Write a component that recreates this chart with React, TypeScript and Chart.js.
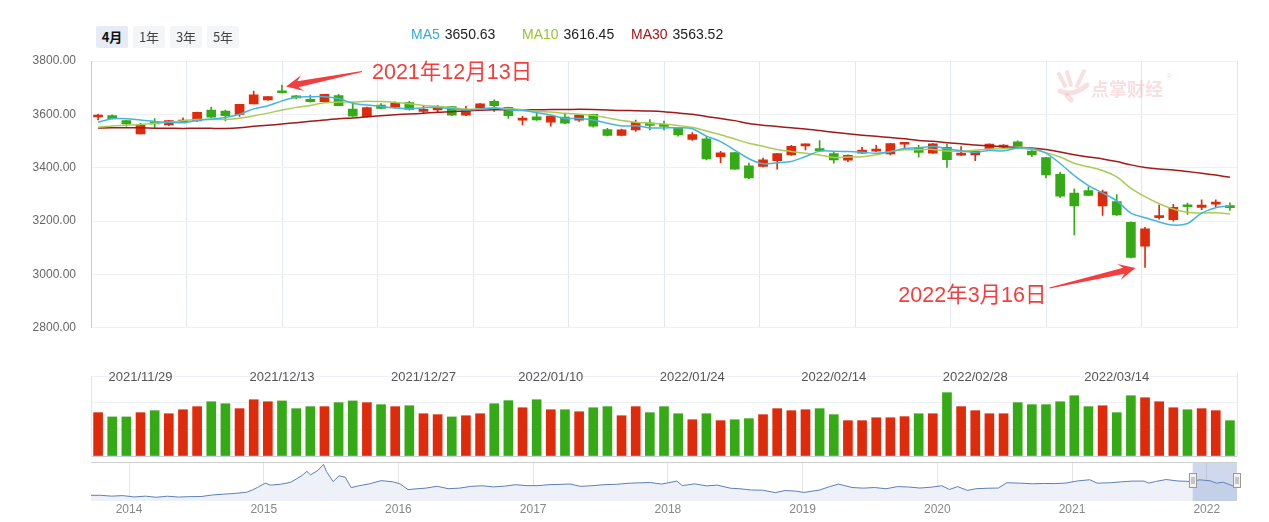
import React, { useEffect, useRef } from 'react';
import { Chart, registerables } from 'chart.js';

Chart.register(...registerables);

const FONT = "'Liberation Sans', Arial, 'Noto Sans CJK SC', sans-serif";

// ---------------- DATA ----------------
const dates = [
  '2021/11/24', '2021/11/25', '2021/11/26', '2021/11/29', '2021/11/30',
  '2021/12/01', '2021/12/02', '2021/12/03', '2021/12/06', '2021/12/07', '2021/12/08', '2021/12/09', '2021/12/10',
  '2021/12/13', '2021/12/14', '2021/12/15', '2021/12/16', '2021/12/17', '2021/12/20', '2021/12/21', '2021/12/22',
  '2021/12/23', '2021/12/24', '2021/12/27', '2021/12/28', '2021/12/29', '2021/12/30', '2021/12/31',
  '2022/01/04', '2022/01/05', '2022/01/06', '2022/01/07', '2022/01/10', '2022/01/11', '2022/01/12', '2022/01/13',
  '2022/01/14', '2022/01/17', '2022/01/18', '2022/01/19', '2022/01/20', '2022/01/21', '2022/01/24', '2022/01/25',
  '2022/01/26', '2022/01/27', '2022/01/28',
  '2022/02/07', '2022/02/08', '2022/02/09', '2022/02/10', '2022/02/11', '2022/02/14', '2022/02/15', '2022/02/16',
  '2022/02/17', '2022/02/18', '2022/02/21', '2022/02/22', '2022/02/23', '2022/02/24', '2022/02/25', '2022/02/28',
  '2022/03/01', '2022/03/02', '2022/03/03', '2022/03/04', '2022/03/07', '2022/03/08', '2022/03/09', '2022/03/10',
  '2022/03/11', '2022/03/14', '2022/03/15', '2022/03/16', '2022/03/17', '2022/03/18', '2022/03/21', '2022/03/22',
  '2022/03/23', '2022/03/24',
];

const opens = [
  3590, 3595, 3577, 3527, 3569, 3560, 3571, 3575, 3616, 3612,
  3600, 3639, 3654, 3688, 3669, 3656, 3648, 3670, 3620, 3590,
  3635, 3627, 3644, 3611, 3617, 3629, 3597, 3624, 3649, 3626,
  3578, 3591, 3571, 3590, 3578, 3600, 3543, 3521, 3542, 3568,
  3557, 3548, 3506, 3508, 3441, 3457, 3407, 3405, 3426, 3448,
  3482, 3472, 3453, 3428, 3455, 3462, 3452, 3488, 3474, 3455,
  3476, 3447, 3448, 3472, 3477, 3497, 3462, 3438, 3375, 3305,
  3314, 3257, 3273, 3195, 3106, 3213, 3205, 3256, 3251, 3263,
  3255,
];
const highs = [
  3601, 3598, 3578, 3566, 3584, 3578, 3587, 3609, 3627, 3616,
  3638, 3687, 3667, 3710, 3671, 3672, 3675, 3675, 3645, 3627,
  3640, 3647, 3649, 3633, 3634, 3630, 3631, 3641, 3654, 3627,
  3593, 3609, 3594, 3603, 3599, 3601, 3548, 3545, 3579, 3580,
  3575, 3548, 3532, 3518, 3461, 3458, 3417, 3436, 3454, 3484,
  3490, 3502, 3458, 3448, 3476, 3484, 3491, 3495, 3484, 3491,
  3488, 3479, 3463, 3490, 3487, 3501, 3472, 3439, 3383, 3321,
  3328, 3316, 3299, 3197, 3177, 3260, 3263, 3267, 3280, 3280,
  3268,
];
const lows = [
  3579, 3583, 3556, 3527, 3549, 3558, 3569, 3574, 3588, 3575,
  3592, 3639, 3653, 3679, 3658, 3646, 3647, 3632, 3592, 3589,
  3620, 3623, 3616, 3603, 3609, 3595, 3595, 3623, 3610, 3585,
  3560, 3577, 3556, 3565, 3574, 3552, 3519, 3519, 3536, 3542,
  3542, 3518, 3502, 3429, 3419, 3394, 3359, 3403, 3395, 3446,
  3467, 3462, 3417, 3423, 3454, 3460, 3448, 3474, 3440, 3454,
  3401, 3445, 3426, 3467, 3471, 3481, 3441, 3362, 3289, 3148,
  3296, 3221, 3221, 3062, 3026, 3207, 3200, 3225, 3243, 3254,
  3240,
];
const closes = [
  3592.7, 3584.2, 3564.1, 3562.7, 3563.9, 3576.9, 3573.8, 3607.4, 3589.3, 3595.1,
  3637.6, 3673.0, 3666.4, 3681.1, 3661.5, 3647.6, 3675.0, 3632.4, 3593.6, 3625.1,
  3622.6, 3643.3, 3618.1, 3616.0, 3630.1, 3597.0, 3619.2, 3639.8, 3632.3, 3595.2,
  3586.1, 3579.5, 3593.5, 3567.4, 3597.4, 3555.3, 3521.3, 3541.7, 3569.9, 3558.2,
  3555.1, 3522.6, 3524.1, 3433.1, 3455.7, 3394.3, 3361.4, 3429.6, 3452.6, 3480.0,
  3485.9, 3463.0, 3428.9, 3446.7, 3465.8, 3468.0, 3490.8, 3490.6, 3457.2, 3489.2,
  3430.0, 3451.4, 3462.3, 3488.8, 3484.2, 3481.1, 3447.7, 3372.9, 3293.5, 3256.4,
  3296.1, 3309.8, 3223.5, 3064.0, 3170.7, 3215.0, 3251.1, 3253.7, 3259.9, 3271.0,
  3250.3,
];

const ma5 = [
  3570.5, 3583.2, 3584.0, 3578.7, 3573.5, 3570.4, 3568.3, 3576.9, 3582.3, 3588.5,
  3600.6, 3620.5, 3632.3, 3650.63, 3663.9, 3665.9, 3666.3, 3659.5, 3642.0, 3634.7,
  3629.7, 3623.4, 3620.5, 3625.0, 3626.0, 3620.9, 3616.1, 3620.4, 3623.7, 3616.7,
  3614.5, 3606.6, 3597.3, 3584.3, 3584.8, 3578.6, 3567.0, 3556.6, 3557.1, 3549.3,
  3549.2, 3549.5, 3546.0, 3518.6, 3498.1, 3466.0, 3433.7, 3414.8, 3418.7, 3423.6,
  3441.9, 3462.2, 3462.1, 3460.9, 3458.1, 3454.5, 3460.0, 3472.4, 3474.5, 3479.2,
  3471.6, 3463.7, 3458.0, 3464.3, 3463.3, 3473.6, 3472.8, 3454.9, 3415.9, 3370.3,
  3333.3, 3305.7, 3275.9, 3230.0, 3212.8, 3196.6, 3184.9, 3190.9, 3230.1, 3250.1,
  3257.2,
];
const ma10 = [
  3551.7, 3556.8, 3559.3, 3562.3, 3566.5, 3570.4, 3575.8, 3580.5, 3580.5, 3581.0,
  3585.5, 3594.4, 3604.6, 3616.45, 3626.2, 3633.3, 3643.4, 3645.9, 3646.3, 3649.3,
  3647.8, 3644.9, 3640.0, 3633.5, 3630.4, 3625.3, 3619.7, 3620.5, 3624.4, 3621.4,
  3617.7, 3611.3, 3608.9, 3604.0, 3600.7, 3596.6, 3586.8, 3577.0, 3570.7, 3567.0,
  3563.9, 3558.2, 3551.3, 3537.9, 3523.7, 3507.6, 3491.6, 3480.4, 3468.7, 3460.9,
  3453.9, 3448.0, 3438.5, 3439.8, 3440.8, 3448.2, 3461.1, 3467.2, 3467.7, 3468.6,
  3463.0, 3461.9, 3465.2, 3469.4, 3471.3, 3472.6, 3468.3, 3456.5, 3440.1, 3416.8,
  3403.4, 3389.3, 3365.4, 3322.9, 3291.6, 3265.0, 3245.3, 3233.4, 3230.0, 3231.5,
  3226.9,
];
const ma30 = [
  3549.0, 3549.9, 3549.6, 3549.4, 3548.4, 3548.1, 3547.4, 3548.2, 3547.5, 3547.4,
  3549.9, 3555.0, 3559.0, 3563.52, 3569.0, 3574.0, 3578.9, 3583.6, 3586.8, 3590.7,
  3595.0, 3598.7, 3601.3, 3604.1, 3607.7, 3609.7, 3613.0, 3615.6, 3617.0, 3617.2,
  3617.0, 3616.9, 3617.8, 3618.0, 3619.1, 3618.4, 3616.6, 3614.5, 3613.8, 3612.6,
  3609.8, 3604.8, 3600.1, 3591.8, 3584.9, 3576.5, 3566.0, 3559.3, 3554.6, 3549.7,
  3545.2, 3539.2, 3532.9, 3527.2, 3521.8, 3517.5, 3513.2, 3508.2, 3502.4, 3498.8,
  3493.6, 3489.4, 3485.0, 3482.4, 3478.6, 3476.1, 3473.7, 3468.0, 3458.8, 3448.8,
  3440.1, 3433.0, 3423.0, 3410.7, 3401.2, 3395.2, 3391.6, 3385.7, 3379.3, 3372.3,
  3364.5,
];

const volumes = [
  3.25, 2.93, 2.93, 3.25, 3.40, 3.17, 3.47, 3.70, 4.07, 3.92,
  3.55, 4.22, 4.07, 4.13, 3.55, 3.70, 3.70, 4.00, 4.13, 4.00,
  3.85, 3.70, 3.77, 3.17, 3.10, 2.93, 3.02, 3.17, 3.92, 4.15,
  3.62, 4.22, 3.47, 3.47, 3.32, 3.62, 3.70, 3.02, 3.70, 3.25,
  3.70, 3.17, 2.72, 3.17, 2.65, 2.72, 2.80, 3.10, 3.55, 3.40,
  3.47, 3.55, 3.10, 2.65, 2.65, 2.87, 2.87, 2.95, 3.17, 3.17,
  4.75, 3.70, 3.40, 3.17, 3.17, 4.00, 3.85, 3.85, 4.07, 4.52,
  3.70, 3.77, 3.25, 4.52, 4.37, 4.07, 3.62, 3.47, 3.55, 3.40,
  2.65,
];

const priceTicks = [2800, 3000, 3200, 3400, 3600, 3800];
const volumeTicks = [0, 2, 4, 6];
const volumeLabelDates = ['2021/11/29', '2021/12/13', '2021/12/27', '2022/01/10', '2022/01/24', '2022/02/14', '2022/02/28', '2022/03/14'];
const rangeButtons = ['4月', '1年', '3年', '5年'];
const selectedRange = '4月';
const legendDate = '2021/12/13';
const noteDates = ['2021/12/13', '2022/03/16'];
const noteTexts = ['2021年12月13日', '2022年3月16日'];

const navDates = [
  '2013-09-20', '2013-10-15', '2013-11-15', '2013-12-15', '2014-01-15', '2014-02-15', '2014-03-15', '2014-04-15',
  '2014-05-15', '2014-06-15', '2014-07-15', '2014-08-15', '2014-09-15', '2014-10-15', '2014-11-15', '2014-12-01',
  '2014-12-15', '2015-01-05', '2015-01-20', '2015-02-15', '2015-03-15', '2015-04-01', '2015-04-15', '2015-04-28',
  '2015-05-08', '2015-05-28', '2015-06-12', '2015-06-20', '2015-07-08', '2015-07-24', '2015-08-10', '2015-08-26',
  '2015-09-15', '2015-10-15', '2015-11-15', '2015-12-15', '2016-01-05', '2016-01-27', '2016-02-15', '2016-03-15',
  '2016-04-15', '2016-05-15', '2016-06-15', '2016-07-15', '2016-08-15', '2016-09-15', '2016-10-15', '2016-11-15',
  '2016-12-15', '2017-01-15', '2017-02-15', '2017-03-15', '2017-04-10', '2017-05-10', '2017-06-15', '2017-07-15',
  '2017-08-15', '2017-09-15', '2017-10-15', '2017-11-15', '2017-12-15', '2018-01-25', '2018-02-09', '2018-03-15',
  '2018-04-15', '2018-05-15', '2018-06-20', '2018-07-15', '2018-08-15', '2018-09-15', '2018-10-19', '2018-11-15',
  '2018-12-15', '2019-01-04', '2019-02-15', '2019-03-15', '2019-04-08', '2019-05-15', '2019-06-15', '2019-07-15',
  '2019-08-15', '2019-09-15', '2019-10-15', '2019-11-15', '2019-12-15', '2020-01-13', '2020-02-03', '2020-02-25',
  '2020-03-23', '2020-04-15', '2020-05-15', '2020-06-15', '2020-07-08', '2020-08-15', '2020-09-15', '2020-10-15',
  '2020-11-15', '2020-12-15', '2021-01-15', '2021-02-18', '2021-03-10', '2021-04-15', '2021-05-15', '2021-06-15',
  '2021-07-15', '2021-07-28', '2021-08-15', '2021-09-13', '2021-10-15', '2021-11-15', '2021-12-13', '2022-01-10',
  '2022-01-28', '2022-02-15', '2022-03-15', '2022-03-24',
];
const navValues = [
  2190, 2190, 2110, 2160, 2030, 2110, 2000, 2100,
  2020, 2060, 2070, 2220, 2300, 2370, 2480, 2700,
  2950, 3350, 3170, 3250, 3450, 3800, 4100, 4500,
  4150, 4600, 5170, 4480, 3510, 4070, 3930, 2930,
  3100, 3300, 3600, 3500, 3300, 2740, 2800, 2880,
  3060, 2830, 2880, 3050, 3110, 3000, 3070, 3210,
  3120, 3120, 3220, 3240, 3280, 3050, 3130, 3220,
  3250, 3350, 3390, 3420, 3270, 3560, 3130, 3290,
  3100, 3170, 2870, 2820, 2700, 2680, 2450, 2650,
  2590, 2460, 2690, 3020, 3270, 2940, 2880, 2940,
  2820, 3030, 2990, 2890, 2970, 3110, 2750, 3030,
  2660, 2820, 2870, 2890, 3400, 3360, 3300, 3330,
  3320, 3370, 3570, 3690, 3360, 3400, 3490, 3560,
  3560, 3360, 3520, 3710, 3570, 3530, 3680, 3590,
  3360, 3450, 3060, 3250,
];
const navYears = [2014, 2015, 2016, 2017, 2018, 2019, 2020, 2021, 2022];

// ---------------- STYLE ----------------
const RED = '#de2b0c';
const GREEN = '#36a917';
const C_MA5 = '#45b5dc';
const C_MA10 = '#a9cc55';
const C_MA30 = '#a01a1a';
const NOTE_RED = '#f23e3e';
const W = 1269;
const PLOT_LEFT = 91;
const PLOT_RIGHT_PAD = 32;
const GRID_COLUMNS = 12;

const candleColors = closes.map((c, i) => (c >= opens[i] ? RED : GREEN));

function toDecimalYear(s: string): number {
  const [y, m, d] = s.split(/[-/]/).map(Number);
  const start = Date.UTC(y, 0, 1);
  const end = Date.UTC(y + 1, 0, 1);
  return y + (Date.UTC(y, m - 1, d) - start) / (end - start);
}

function drawArrow(ctx: CanvasRenderingContext2D, tail: { x: number; y: number }, tip: { x: number; y: number }) {
  const dx = tip.x - tail.x;
  const dy = tip.y - tail.y;
  const len = Math.hypot(dx, dy);
  const ux = dx / len, uy = dy / len;
  const nx = -uy, ny = ux;
  const headLen = 17, headHalf = 8, neck = 12, w0 = 0.6, w1 = 3;
  const bx = tip.x - ux * neck, by = tip.y - uy * neck;
  const hx = tip.x - ux * headLen, hy = tip.y - uy * headLen;
  ctx.beginPath();
  ctx.moveTo(tail.x + nx * w0, tail.y + ny * w0);
  ctx.lineTo(bx + nx * w1, by + ny * w1);
  ctx.lineTo(hx + nx * headHalf, hy + ny * headHalf);
  ctx.lineTo(tip.x, tip.y);
  ctx.lineTo(hx - nx * headHalf, hy - ny * headHalf);
  ctx.lineTo(bx - nx * w1, by - ny * w1);
  ctx.lineTo(tail.x - nx * w0, tail.y - ny * w0);
  ctx.closePath();
  ctx.fill();
}

const watermarkPlugin = {
  id: 'watermark',
  beforeDatasetsDraw(chart: any) {
    const { ctx, chartArea } = chart;
    const x0 = chartArea.right - 180;
    const y0 = chartArea.top + 27;
    ctx.save();
    ctx.fillStyle = 'rgba(232,150,160,0.3)';
    ctx.strokeStyle = 'rgba(232,150,160,0.3)';
    ctx.lineCap = 'round';
    ctx.lineWidth = 4;
    ctx.beginPath(); ctx.moveTo(x0 + 2, y0 - 14); ctx.lineTo(x0 + 8, y0 - 2); ctx.stroke();
    ctx.beginPath(); ctx.moveTo(x0 + 10, y0 - 16); ctx.lineTo(x0 + 14, y0 - 3); ctx.stroke();
    ctx.beginPath(); ctx.moveTo(x0 + 27, y0 - 17); ctx.lineTo(x0 + 20, y0 - 2); ctx.stroke();
    ctx.lineWidth = 5;
    ctx.beginPath(); ctx.moveTo(x0 + 3, y0 + 3); ctx.quadraticCurveTo(x0 + 16, y0 + 9, x0 + 30, y0 - 3); ctx.stroke();
    ctx.beginPath(); ctx.moveTo(x0 + 10, y0 + 8); ctx.lineTo(x0 + 14, y0 + 12); ctx.stroke();
    ctx.font = `bold 18px 'Noto Sans CJK SC', sans-serif`;
    ctx.textAlign = 'left';
    ctx.textBaseline = 'middle';
    ctx.fillText('点掌财经', x0 + 34, y0 + 1);
    ctx.font = `9px ${FONT}`;
    ctx.fillText('®', x0 + 109, y0 - 10);
    ctx.restore();
  },
};

const notesPlugin = {
  id: 'notes',
  afterDatasetsDraw(chart: any) {
    const { ctx } = chart;
    const xs = chart.scales.x, ys = chart.scales.y;
    ctx.save();
    ctx.fillStyle = NOTE_RED;
    ctx.font = `21.5px 'Liberation Sans', 'Noto Sans CJK SC', sans-serif`;
    ctx.textBaseline = 'middle';
    const i1 = dates.indexOf(noteDates[0]);
    const tip1 = { x: xs.getPixelForValue(i1) + 4, y: ys.getPixelForValue(highs[i1]) + 1.5 };
    drawArrow(ctx, { x: tip1.x + 76, y: tip1.y - 15 }, tip1);
    ctx.textAlign = 'left';
    ctx.fillText(noteTexts[0], tip1.x + 86, tip1.y - 13);
    const i2 = dates.indexOf(noteDates[1]);
    const tip2 = { x: xs.getPixelForValue(i2) - 9.5, y: ys.getPixelForValue(lows[i2]) + 0.5 };
    drawArrow(ctx, { x: tip2.x - 86, y: tip2.y + 20 }, tip2);
    ctx.textAlign = 'right';
    ctx.fillText(noteTexts[1], tip2.x - 89, tip2.y + 28);
    ctx.restore();
  },
};

const volumeLabelsPlugin = {
  id: 'volLabels',
  afterDraw(chart: any) {
    const { ctx, chartArea } = chart;
    const xs = chart.scales.x;
    ctx.save();
    ctx.strokeStyle = '#e3e6eb';
    ctx.lineWidth = 1;
    ctx.beginPath();
    ctx.moveTo(Math.round(chartArea.right) + 0.5, chartArea.top - 3);
    ctx.lineTo(Math.round(chartArea.right) + 0.5, chartArea.bottom);
    ctx.stroke();
    ctx.fillStyle = '#555';
    ctx.font = `13px ${FONT}`;
    ctx.textAlign = 'center';
    ctx.textBaseline = 'middle';
    volumeLabelDates.forEach((d) => {
      const i = dates.indexOf(d);
      if (i >= 0) ctx.fillText(d, xs.getPixelForValue(i), chartArea.top + 1.5);
    });
    ctx.restore();
  },
};

const navPlugin = {
  id: 'navSel',
  afterDatasetsDraw(chart: any) {
    const { ctx, chartArea } = chart;
    const xs = chart.scales.x;
    ctx.save();
    ctx.strokeStyle = '#cfcfcf';
    ctx.lineWidth = 1;
    ctx.beginPath();
    ctx.moveTo(chartArea.left, Math.round(chartArea.top) + 0.5);
    ctx.lineTo(chartArea.right, Math.round(chartArea.top) + 0.5);
    ctx.stroke();
    const x0 = xs.getPixelForValue(toDecimalYear(dates[0]));
    const x1 = chartArea.right;
    ctx.fillStyle = 'rgba(110,135,200,0.32)';
    ctx.fillRect(x0, chartArea.top + 1, x1 - x0, chartArea.bottom - chartArea.top - 1);
    [x0, x1].forEach((hx) => {
      const top = chartArea.top + 11;
      ctx.fillStyle = '#f2f2f2';
      ctx.strokeStyle = '#999';
      ctx.fillRect(Math.round(hx) - 3.5, top, 7, 15);
      ctx.strokeRect(Math.round(hx) - 3.5, top + 0.5, 7, 14);
      ctx.beginPath();
      ctx.moveTo(Math.round(hx) - 1, top + 4); ctx.lineTo(Math.round(hx) - 1, top + 11);
      ctx.moveTo(Math.round(hx) + 1, top + 4); ctx.lineTo(Math.round(hx) + 1, top + 11);
      ctx.stroke();
    });
    ctx.restore();
  },
};

export default function App() {
  const mainRef = useRef<HTMLCanvasElement>(null);
  const volRef = useRef<HTMLCanvasElement>(null);
  const navRef = useRef<HTMLCanvasElement>(null);

  useEffect(() => {
    Chart.defaults.font.family = FONT;

    const main = new Chart(mainRef.current as HTMLCanvasElement, {
      type: 'bar',
      data: {
        labels: dates,
        datasets: [
          { type: 'line', label: 'MA5', data: ma5, borderColor: C_MA5, borderWidth: 1.5, pointRadius: 0, tension: 0.3, order: 0 } as any,
          { type: 'line', label: 'MA10', data: ma10, borderColor: C_MA10, borderWidth: 1.5, pointRadius: 0, tension: 0.3, order: 0 } as any,
          { type: 'line', label: 'MA30', data: ma30, borderColor: C_MA30, borderWidth: 1.5, pointRadius: 0, tension: 0.3, order: 0 } as any,
          {
            type: 'bar', label: 'wick', data: lows.map((l, i) => [l, highs[i]]), backgroundColor: candleColors,
            barThickness: 1, grouped: false, order: 3,
          } as any,
          {
            type: 'bar', label: 'body', data: opens.map((o, i) => [Math.min(o, closes[i]), Math.max(o, closes[i])]),
            backgroundColor: candleColors, barThickness: 9, grouped: false, minBarLength: 2, order: 2,
          } as any,
        ],
      },
      options: {
        responsive: false,
        animation: false,
        layout: { padding: { left: 0, right: PLOT_RIGHT_PAD, top: 61, bottom: 12 } },
        scales: {
          x: { type: 'category', display: false },
          xg: {
            type: 'linear', position: 'bottom', min: 0, max: GRID_COLUMNS, offset: false,
            ticks: { display: false, stepSize: 1 },
            grid: { color: '#e2e8f0', drawTicks: false, offset: false },
            border: { display: false },
            afterFit: (s: any) => { s.height = 0; },
          },
          y: {
            min: priceTicks[0], max: priceTicks[priceTicks.length - 1],
            afterBuildTicks: (s: any) => { s.ticks = priceTicks.map((v) => ({ value: v })); },
            ticks: { callback: (v: any) => Number(v).toFixed(2), color: '#666', font: { size: 12 }, padding: 15 },
            grid: { color: '#eef1f5', drawTicks: false },
            border: { color: '#c3cee2' },
            afterFit: (s: any) => { s.width = PLOT_LEFT; },
          },
        },
        plugins: { legend: { display: false }, tooltip: { enabled: false } },
      } as any,
      plugins: [watermarkPlugin, notesPlugin],
    });

    const vol = new Chart(volRef.current as HTMLCanvasElement, {
      type: 'bar',
      data: {
        labels: dates,
        datasets: [{ label: 'VOL', data: volumes, backgroundColor: candleColors, barThickness: 9 } as any],
      },
      options: {
        responsive: false,
        animation: false,
        layout: { padding: { left: 0, right: PLOT_RIGHT_PAD, top: 26, bottom: 2 } },
        scales: {
          x: { type: 'category', display: false },
          y: {
            min: volumeTicks[0], max: volumeTicks[volumeTicks.length - 1],
            afterBuildTicks: (s: any) => { s.ticks = volumeTicks.map((v) => ({ value: v })); },
            ticks: { display: false },
            grid: {
              color: (c: any) => (c.tick && c.tick.value === 0 ? '#c5cfe3' : '#eef1f5'),
              drawTicks: false,
            },
            border: { color: '#e3e6eb' },
            afterFit: (s: any) => { s.width = PLOT_LEFT; },
          },
        },
        plugins: { legend: { display: false }, tooltip: { enabled: false } },
      } as any,
      plugins: [volumeLabelsPlugin],
    });

    const navPoints = navDates.map((d, i) => ({ x: toDecimalYear(d), y: navValues[i] }));
    const nav = new Chart(navRef.current as HTMLCanvasElement, {
      type: 'line',
      data: {
        datasets: [{
          label: 'index', data: navPoints, borderColor: '#5d7fb8', borderWidth: 1,
          backgroundColor: '#eef2f8', fill: 'start', pointRadius: 0, tension: 0,
        } as any],
      },
      options: {
        responsive: false,
        animation: false,
        layout: { padding: { left: 0, right: PLOT_RIGHT_PAD, top: 4, bottom: 0 } },
        scales: {
          x: {
            type: 'linear', min: navPoints[0].x, max: navPoints[navPoints.length - 1].x,
            afterBuildTicks: (s: any) => { s.ticks = navYears.map((v) => ({ value: v })); },
            ticks: { color: '#888', font: { size: 12 }, padding: 1, callback: (v: any) => String(v), autoSkip: false, maxRotation: 0 },
            grid: { color: '#e3e3e3', drawTicks: false },
            border: { display: false },
            afterFit: (s: any) => { s.height = 21; },
          },
          y: {
            min: 1640, max: 5400,
            ticks: { display: false },
            grid: { display: false },
            border: { display: false },
            afterFit: (s: any) => { s.width = PLOT_LEFT; },
          },
        },
        plugins: { legend: { display: false }, tooltip: { enabled: false } },
      } as any,
      plugins: [navPlugin],
    });

    return () => {
      main.destroy();
      vol.destroy();
      nav.destroy();
    };
  }, []);

  const li = dates.indexOf(legendDate);
  const legendItems = [
    { name: 'MA5', color: '#3aa9d9', value: ma5[li], left: 411 },
    { name: 'MA10', color: '#9bc232', value: ma10[li], left: 522 },
    { name: 'MA30', color: '#a3161a', value: ma30[li], left: 631 },
  ];

  return (
    <div style={{ position: 'absolute', left: 0, top: 0, width: W, height: 522, overflow: 'hidden', background: '#fff', fontFamily: FONT }}>
      <canvas ref={mainRef} width={W} height={350} style={{ position: 'absolute', left: 0, top: 0 }} />
      <canvas ref={volRef} width={W} height={108} style={{ position: 'absolute', left: 0, top: 350 }} />
      <canvas ref={navRef} width={W} height={64} style={{ position: 'absolute', left: 0, top: 458 }} />
      {rangeButtons.map((b, i) => (
        <div
          key={b}
          style={{
            position: 'absolute', left: 96 + i * 37, top: 26, width: 32, height: 22, lineHeight: '22px',
            textAlign: 'center', fontSize: 13, borderRadius: 2,
            fontFamily: "'Noto Sans CJK SC', sans-serif",
            background: b === selectedRange ? '#e6ebf5' : '#f4f5f6',
            color: b === selectedRange ? '#111' : '#444',
            fontWeight: b === selectedRange ? 'bold' : 'normal',
          }}
        >
          {b}
        </div>
      ))}
      {legendItems.map((it) => (
        <div key={it.name} style={{ position: 'absolute', left: it.left, top: 25, fontSize: 14, lineHeight: '18px', whiteSpace: 'nowrap' }}>
          <span style={{ color: it.color }}>{it.name}</span>
          <span style={{ color: '#222', marginLeft: 5 }}>{it.value.toFixed(2)}</span>
        </div>
      ))}
    </div>
  );
}
